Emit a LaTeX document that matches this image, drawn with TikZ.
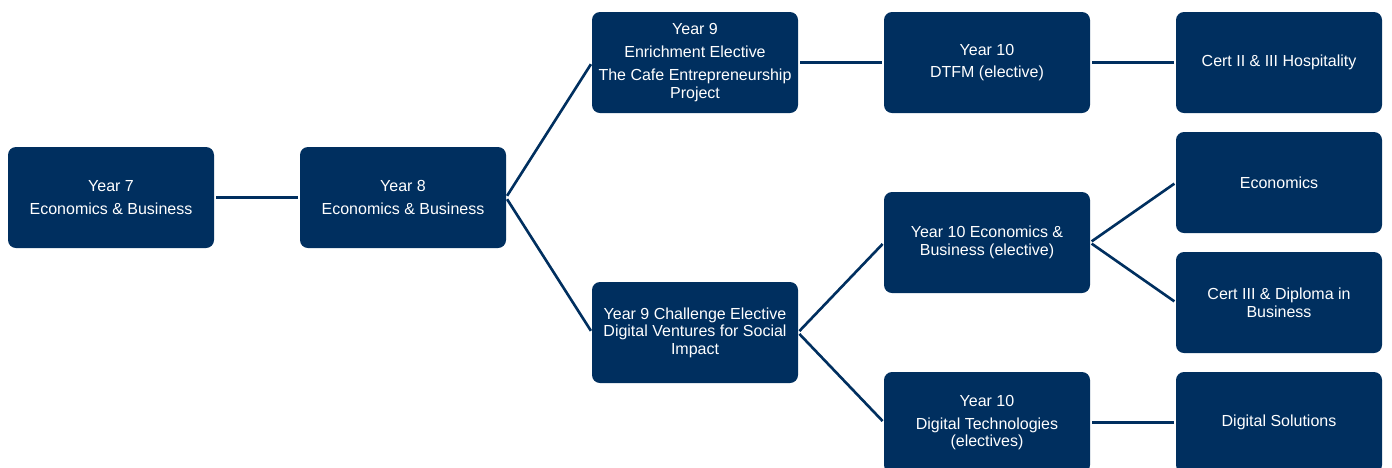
\documentclass[tikz,border=0pt]{standalone}
\usepackage{fontspec}
\setmainfont{Liberation Sans}
\usetikzlibrary{positioning}
\definecolor{navy}{RGB}{0,47,95}

\begin{document}
\begin{tikzpicture}[
    node distance=1.72cm,
    every node/.style={font=\fontsize{9.1}{10}\selectfont},
    course/.style={rectangle, fill=navy, text=white, rounded corners=0.16cm, minimum width=4.12cm, minimum height=2.02cm, align=center, inner sep=2pt, outer sep=0pt},
    link/.style={draw=navy, line width=1.5pt, shorten <=0.04cm, shorten >=0.04cm},
]
\clip (0,0) rectangle (27.84,-9.34);
\useasboundingbox (0,0) rectangle (27.84,-9.34);

% === Years 7 and 8 ===
\node[course] (y7) at (2.22,-3.95) {Year 7\\[3pt]Economics \& Business};
\node[course, right=of y7] (y8) {Year 8\\[3pt]Economics \& Business};

% === Year 9 electives ===
\node[course, right=of y8, yshift=2.7cm] (y9enrich) {Year 9\\[3pt]Enrichment Elective\\[3pt]The Cafe Entrepreneurship\\Project};
\node[course, right=of y8, yshift=-2.7cm] (y9chall) {Year 9 Challenge Elective\\Digital Ventures for Social\\Impact};

% === Year 10 ===
\node[course, right=of y9enrich] (y10dtfm) {Year 10\\[3pt]DTFM (elective)};
\node[course, right=of y9chall, yshift=1.8cm] (y10econ) {Year 10 Economics \&\\Business (elective)};
\node[course, right=of y9chall, yshift=-1.8cm] (y10digi) {Year 10\\[3pt]Digital Technologies\\(electives)};

% === Senior pathways ===
\node[course, right=of y10dtfm] (hosp) {Cert II \& III Hospitality};
\node[course, right=of y10econ, yshift=1.2cm] (econ) {Economics};
\node[course, right=of y10econ, yshift=-1.2cm] (certbus) {Cert III \& Diploma in\\Business};
\node[course, right=of y10digi] (digsol) {Digital Solutions};

% Connectors
\draw[link] (y7.east) -- (y8.west);
\draw[link] (y8.east) -- (y9enrich.west);
\draw[link] (y8.east) -- (y9chall.west);
\draw[link] (y9enrich.east) -- (y10dtfm.west);
\draw[link] (y9chall.east) -- (y10econ.west);
\draw[link] (y9chall.east) -- (y10digi.west);
\draw[link] (y10dtfm.east) -- (hosp.west);
\draw[link] (y10econ.east) -- (econ.west);
\draw[link] (y10econ.east) -- (certbus.west);
\draw[link] (y10digi.east) -- (digsol.west);

\end{tikzpicture}
\end{document}
